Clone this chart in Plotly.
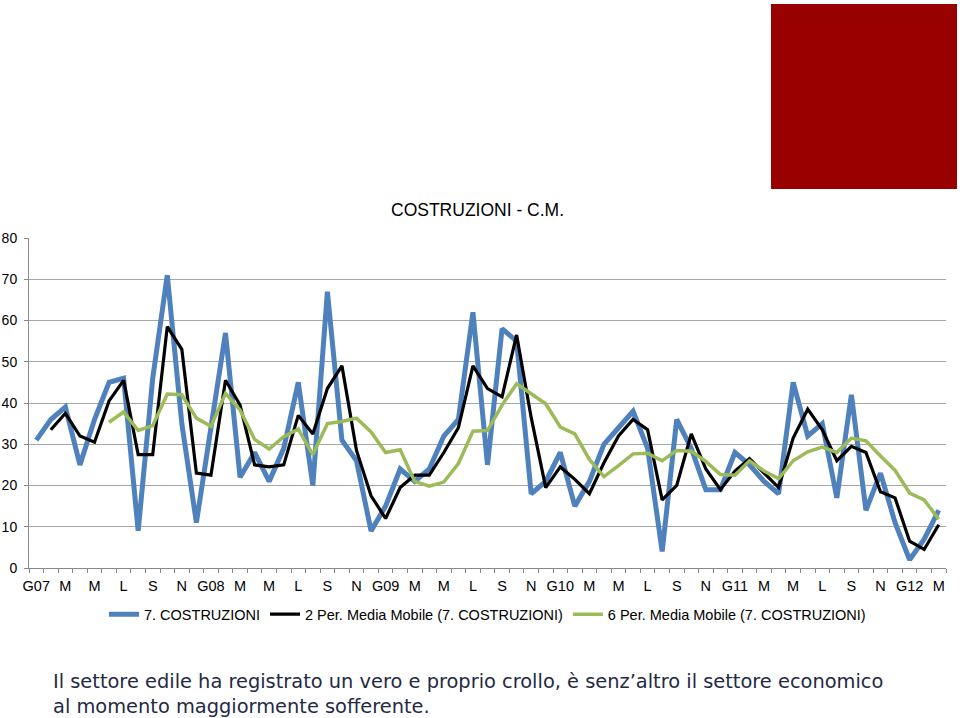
import plotly.graph_objects as go

# Monthly data Jan 2007 - Mar 2012
tick_labels = ["G07", "M", "M", "L", "S", "N",
               "G08", "M", "M", "L", "S", "N",
               "G09", "M", "M", "L", "S", "N",
               "G10", "M", "M", "L", "S", "N",
               "G11", "M", "M", "L", "S", "N",
               "G12", "M"]

costruzioni = [31, 36, 39, 25, 36, 45, 46, 9, 46, 71, 35, 11,
               34, 57, 22, 28, 21, 29, 45, 20, 67, 31, 26, 9,
               15, 24, 21, 24, 32, 36, 62, 25, 58, 55, 18, 21,
               28, 15, 21, 30, 34, 38, 29, 4, 36, 29, 19, 19,
               28, 25, 21, 18, 45, 32, 35, 17, 42, 14, 23, 11,
               2, 7, 14]

media_mobile_2 = [None, 33.5, 37.5, 32, 30.5, 40.5, 45.5, 27.5, 27.5, 58.5, 53, 23,
                  22.5, 45.5, 39.5, 25, 24.5, 25, 37, 32.5, 43.5, 49, 28.5, 17.5,
                  12, 19.5, 22.5, 22.5, 28, 34, 49, 43.5, 41.5, 56.5, 36.5, 19.5,
                  24.5, 21.5, 18, 25.5, 32, 36, 33.5, 16.5, 20, 32.5, 24, 19,
                  23.5, 26.5, 23, 19.5, 31.5, 38.5, 33.5, 26, 29.5, 28, 18.5, 17,
                  6.5, 4.5, 10.5]

media_mobile_6 = [None, None, None, None, None, 35.33, 37.83, 33.33, 34.5, 42.17, 42.0, 36.33,
                  34.33, 42.33, 38.33, 31.17, 28.83, 31.83, 33.67, 27.5, 35.0, 35.5, 36.33, 33.0,
                  28.0, 28.67, 21.0, 19.83, 20.83, 25.33, 33.17, 33.33, 39.5, 44.67, 42.33, 39.83,
                  34.17, 32.5, 26.33, 22.17, 24.83, 27.67, 27.83, 26.0, 28.5, 28.33, 25.83, 22.67,
                  22.5, 26.0, 23.5, 21.67, 26.0, 28.17, 29.33, 28.0, 31.5, 30.83, 27.17, 23.67,
                  18.17, 16.5, 11.83]

x = list(range(len(costruzioni)))
tick_pos = list(range(0, len(costruzioni), 2))

fig = go.Figure()
fig.add_trace(go.Scatter(x=x, y=costruzioni, mode="lines", name="7. COSTRUZIONI",
                         line=dict(color="#4F81BD", width=5)))
fig.add_trace(go.Scatter(x=x, y=media_mobile_2, mode="lines",
                         name="2 Per. Media Mobile (7. COSTRUZIONI)",
                         line=dict(color="#000000", width=3.2)))
fig.add_trace(go.Scatter(x=x, y=media_mobile_6, mode="lines",
                         name="6 Per. Media Mobile (7. COSTRUZIONI)",
                         line=dict(color="#9BBB59", width=3.5)))

fig.update_layout(
    width=960, height=718,
    margin=dict(l=29, r=14, t=238, b=150),
    paper_bgcolor="white", plot_bgcolor="white",
    font=dict(family="Liberation Sans, Arial, sans-serif", color="#000000", size=14),
    showlegend=True,
    legend=dict(orientation="h", x=0.5, xanchor="center", y=-0.14, yanchor="middle",
                font=dict(family="Liberation Sans, Arial, sans-serif", size=14.5),
                itemwidth=30, tracegroupgap=0),
    xaxis=dict(range=[-0.5, 62.5], tickmode="array", tickvals=tick_pos, ticktext=tick_labels,
               showgrid=False, zeroline=False, showline=True, linecolor="#888888", linewidth=1,
               ticks="", tickfont=dict(size=14.5), automargin=False, ticklabelstandoff=5,
               minor=dict(tickmode="linear", tick0=-0.5, dtick=1, ticks="outside",
                          ticklen=4, tickcolor="#888888", showgrid=False)),
    yaxis=dict(range=[0, 80], dtick=10, showgrid=True, gridcolor="#A6A6A6", gridwidth=1,
               zeroline=False, showline=True, linecolor="#888888", linewidth=1,
               ticks="outside", ticklen=4, tickcolor="#888888", tickfont=dict(size=14),
               ticklabelstandoff=4, automargin=False),
    shapes=[dict(type="rect", xref="paper", yref="paper", x0=(771 - 29) / 917, x1=(957 - 29) / 917,
                 y0=(568 - 189) / 330, y1=(568 - 4) / 330, fillcolor="#990000",
                 line=dict(width=0), layer="above")],
    annotations=[
        dict(text="COSTRUZIONI - C.M.", xref="paper", yref="paper",
             x=(477 - 29) / 917, y=(568 - 210) / 330,
             xanchor="center", yanchor="middle", showarrow=False,
             font=dict(family="Liberation Sans, Arial, sans-serif", size=17.5, color="#000000")),
        dict(text="Il settore edile ha registrato un vero e proprio crollo, è senz\u2019altro il settore economico<br>al momento maggiormente sofferente.",
             xref="paper", yref="paper", x=(51 - 29) / 917, y=(568 - 668) / 330,
             xanchor="left", yanchor="top",
             align="left", showarrow=False,
             font=dict(family="DejaVu Sans, sans-serif", size=19.4, color="#1F2A44")),
    ],
)

fig.write_html("out.html", config={"displayModeBar": False},
               post_script="document.body.style.margin='0';document.body.style.overflow='hidden';")
